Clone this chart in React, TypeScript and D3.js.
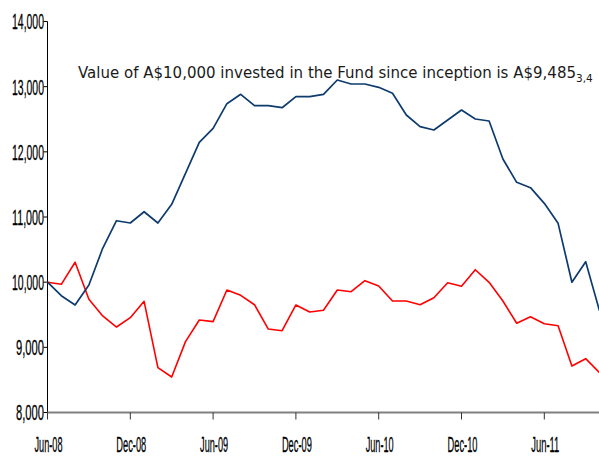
import React from "react";
import * as d3 from "d3";

const months = [
  "Jun-08","Jul-08","Aug-08","Sep-08","Oct-08","Nov-08","Dec-08",
  "Jan-09","Feb-09","Mar-09","Apr-09","May-09","Jun-09","Jul-09","Aug-09","Sep-09","Oct-09","Nov-09","Dec-09",
  "Jan-10","Feb-10","Mar-10","Apr-10","May-10","Jun-10","Jul-10","Aug-10","Sep-10","Oct-10","Nov-10","Dec-10",
  "Jan-11","Feb-11","Mar-11","Apr-11","May-11","Jun-11","Jul-11","Aug-11","Sep-11","Oct-11",
];

const fundValues = [
  10000, 9792, 9650, 9956, 10520, 10943, 10908,
  11081, 10908, 11195, 11670, 12146, 12361, 12739, 12883, 12708, 12708, 12677, 12846,
  12846, 12883, 13102, 13041, 13041, 12990, 12898, 12565, 12386, 12335, 12488, 12642,
  12504, 12473, 11890, 11532, 11450, 11210, 10903, 9998, 10314, 9560,
];

const benchmarkValues = [
  10000, 9967, 10305, 9737, 9481, 9312, 9455,
  9706, 8688, 8545, 9087, 9420, 9394, 9880, 9798, 9654, 9281, 9255, 9650,
  9542, 9568, 9880, 9854, 10023, 9941, 9711, 9711, 9654, 9762, 9992, 9937,
  10191, 9998, 9711, 9369, 9470, 9363, 9332, 8714, 8826, 8611,
];

const xTickLabels = ["Jun-08", "Dec-08", "Jun-09", "Dec-09", "Jun-10", "Dec-10", "Jun-11"];
const yTicks = [8000, 9000, 10000, 11000, 12000, 13000, 14000];

const titleMain = "Value of A$10,000 invested in the Fund since inception is A$9,485";
const titleSub = "3,4";

const W = 599;
const H = 457;

export default function App() {
  const x = d3.scalePoint<string>().domain(months).range([47.5, 599.5]);
  const y = d3.scaleLinear().domain([8000, 14000]).range([412.5, 21.5]);
  const fmt = d3.format(",");

  const line = d3
    .line<number>()
    .x((_, i) => x(months[i]) as number)
    .y((d) => y(d));

  const axisX = 47.5;
  const axisY = y(8000);

  return (
    <svg
      width={W}
      height={H}
      style={{ position: "absolute", left: 0, top: 0, background: "#fff" }}
    >
      <defs>
        <clipPath id="plot">
          <rect x={0} y={0} width={W} height={H} />
        </clipPath>
      </defs>
      <rect x={0} y={0} width={W} height={H} fill="#fff" />

      {/* y axis */}
      <line x1={axisX} x2={axisX} y1={y(14000)} y2={axisY} stroke="#000" strokeWidth={1} />
      {yTicks.map((t) => (
        <g key={t}>
          <line x1={axisX - 4} x2={axisX} y1={y(t)} y2={y(t)} stroke="#000" strokeWidth={1} />
          <text
            x={44}
            y={y(t)}
            dy="0.36em"
            textAnchor="end"
            fontFamily="Liberation Sans, Arial, sans-serif"
            fontSize={22}
            fill="#000"
            stroke="#000"
            strokeWidth={0.3}
            textLength={fmt(t).length === 6 ? 32 : 28}
            lengthAdjust="spacingAndGlyphs"
          >
            {fmt(t)}
          </text>
        </g>
      ))}

      {/* x axis */}
      <line x1={axisX} x2={W} y1={axisY} y2={axisY} stroke="#808080" strokeWidth={2} />
      {xTickLabels.map((m) => (
        <g key={m}>
          <line
            x1={x(m) as number}
            x2={x(m) as number}
            y1={axisY}
            y2={axisY + 7}
            stroke="#333"
            strokeWidth={1}
          />
          <text
            x={(x(m) as number) + 1}
            y={444}
            dy="0.36em"
            textAnchor="middle"
            fontFamily="Liberation Sans, Arial, sans-serif"
            fontSize={22}
            fill="#000"
            stroke="#000"
            strokeWidth={0.3}
            textLength={m.startsWith("Jun") ? 28 : 30}
            lengthAdjust="spacingAndGlyphs"
          >
            {m}
          </text>
        </g>
      ))}

      {/* lines */}
      <g clipPath="url(#plot)">
        <path d={line(benchmarkValues) || ""} fill="none" stroke="#ff0000" strokeWidth={1.6} strokeLinejoin="round" />
        <path d={line(fundValues) || ""} fill="none" stroke="#0d3b6e" strokeWidth={1.7} strokeLinejoin="round" />
      </g>

      {/* title */}
      <text
        x={78}
        y={78}
        fontFamily="DejaVu Sans, Verdana, sans-serif"
        fontSize={15}
        fill="#1a1a1a"
      >
        <tspan textLength={498} lengthAdjust="spacing">{titleMain}</tspan>
        <tspan fontSize={10.5} dy={4}>{titleSub}</tspan>
      </text>
    </svg>
  );
}
